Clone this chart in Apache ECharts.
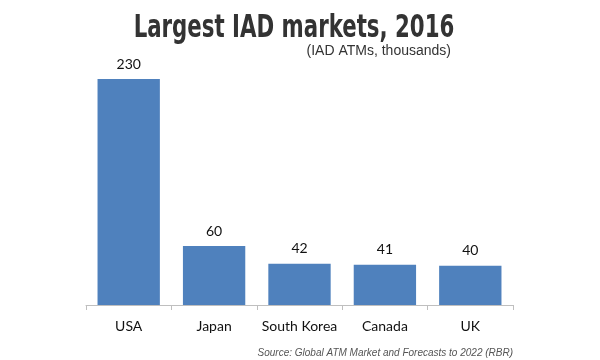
<!DOCTYPE html>
<html><head><meta charset="utf-8">
<script src="https://cdn.jsdelivr.net/npm/echarts@6/dist/echarts.min.js"></script>
<style>html,body{margin:0;padding:0;background:#fff}#c{width:600px;height:360px}</style>
</head><body><div id="c"></div>
<script>
const categories = ['USA', 'Japan', 'South Korea', 'Canada', 'UK'];
const values = [230, 60, 42, 41, 40];
const titleText = 'Largest IAD markets, 2016';
const subtitleText = '(IAD ATMs, thousands)';
const sourceText = 'Source: Global ATM Market and Forecasts to 2022 (RBR)';

const chart = echarts.init(document.getElementById('c'), null, {renderer: 'canvas'});
chart.setOption({
  animation: false,
  backgroundColor: '#ffffff',
  graphic: [{
    type: 'text', x: 294, y: 29, scaleX: 0.74, scaleY: 1,
    style: {text: titleText, x: 0, y: 0, align: 'center', verticalAlign: 'middle',
      font: 'bold 32px "DejaVu Sans Condensed","Liberation Sans",sans-serif', fill: '#333333'}
  }],
  title: [
    {text: subtitleText, right: 144, top: 39,
     textStyle: {fontFamily: '"Liberation Sans",Arial,sans-serif', fontWeight: 'normal', fontSize: 14, color: '#333333'}},
    {text: sourceText, right: 82, top: 343,
     textStyle: {fontFamily: '"Liberation Sans",Arial,sans-serif', fontStyle: 'italic', fontWeight: 'normal', fontSize: 10, color: '#555555'}}
  ],
  grid: {left: 86, right: 87, top: 79, bottom: 55},
  xAxis: {
    type: 'category', data: categories,
    axisLine: {show: true, lineStyle: {color: '#bfbfbf', width: 1}},
    axisTick: {show: true, length: 5, lineStyle: {color: '#bfbfbf'}},
    axisLabel: {interval: 0, color: '#111', fontSize: 14, fontFamily: 'Lato,"Open Sans",sans-serif', margin: 14}
  },
  yAxis: {type: 'value', min: 0, max: 230, show: false, splitLine: {show: false}},
  series: [{
    type: 'bar', data: values, barWidth: '73%',
    itemStyle: {color: '#4f81bd'},
    label: {show: true, position: 'top', distance: 8, color: '#111', fontSize: 14, fontFamily: 'Lato,"Open Sans",sans-serif'}
  }]
});
</script></body></html>
